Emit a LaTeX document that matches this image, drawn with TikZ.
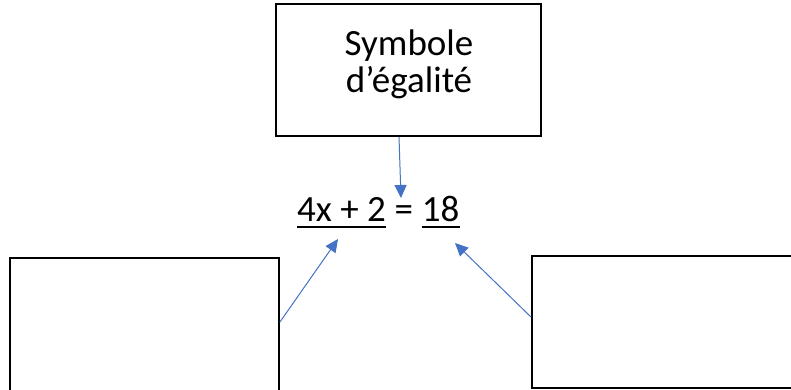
\documentclass[tikz,border=0pt]{standalone}
\usepackage{fontspec}
\setmainfont{Carlito}
\usetikzlibrary{arrows.meta}
\definecolor{arrblue}{RGB}{68,114,196}
\begin{document}
\begin{tikzpicture}[x=1pt,y=-1pt,
  box/.style={draw=black,line width=1.6pt,rectangle,inner sep=0pt},
  conn/.style={draw=arrblue,line width=1pt,-{Triangle[length=13pt,width=12pt]}},
  eqtext/.style={inner sep=0pt,anchor=base west,font=\fontsize{37}{37}\selectfont},
  uline/.style={line width=2.6pt,black}]
\clip (0,0) rectangle (791,389);
\fill[white] (0,0) rectangle (791,389);
% top box with its text
\node[box,minimum width=265pt,minimum height=132pt] (top) at (408.5,70) {};
\node[inner sep=0pt,align=center,font=\fontsize{37}{37}\selectfont,anchor=base] (toptext) at (409,92) {Symbole\\d’égalité};
% equation
\node[eqtext] (lhs) at (297,221) {4x + 2};
\node[eqtext,inner xsep=8.4pt] (eqs) at (lhs.base east) {=};
\node[eqtext] (rhs) at (eqs.base east) {18};
\draw[uline] ([yshift=-6pt]lhs.base west) -- ([yshift=-6pt]lhs.base east);
\draw[uline] ([yshift=-6pt]rhs.base west) -- ([yshift=-6pt]rhs.base east);
% lower boxes
\node[box,minimum width=269pt,minimum height=150pt] (leftbox) at (144.5,333) {};
\node[box,minimum width=290pt,minimum height=132pt] (rightbox) at (677,322) {};
% arrow tips
\coordinate (tipD) at (401,198);
\coordinate (tipL) at (338,239);
\coordinate (tipR) at (455,243);
\draw[conn] ([xshift=-9.5pt]top.south) -- (tipD);
\draw[conn] ([yshift=-65pt]leftbox.north east) -- (tipL);
\draw[conn] ([yshift=-62pt]rightbox.north west) -- (tipR);
\end{tikzpicture}
\end{document}
